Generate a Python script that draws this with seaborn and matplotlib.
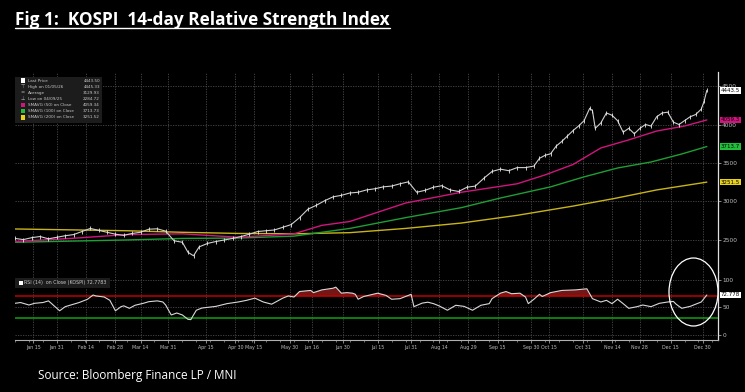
import matplotlib
matplotlib.use("Agg")
import matplotlib.pyplot as plt
import seaborn as sns
import pandas as pd
from matplotlib.patches import Ellipse, Rectangle
from matplotlib.lines import Line2D
from matplotlib.ticker import MultipleLocator

# ---------------- data ----------------
tick_labels = ["Jan 15", "Jan 31", "Feb 14", "Feb 28", "Mar 14", "Mar 31", "Apr 15", "Apr 30",
               "May 15", "May 30", "Jun 16", "Jun 30", "Jul 15", "Jul 31", "Aug 14", "Aug 29",
               "Sep 15", "Sep 30", "Oct 15", "Oct 31", "Nov 14", "Nov 28", "Dec 15", "Dec 30"]
tick_pos = [6.5, 15, 25.5, 36, 45, 55, 68.5, 79, 85.5, 98.5, 106.5, 117.5, 130, 142, 152, 162.5,
            173, 185, 191.5, 203.5, 214, 224, 235, 246.5]

price_idx = [0, 3, 6, 9, 12, 15, 18, 21, 24, 27, 30, 33, 36, 39, 42, 45, 48, 51, 54, 57, 60, 62, 64,
             66, 69, 72, 75, 78, 81, 84, 87, 90, 93, 96, 99, 102, 105, 108, 111, 114, 117, 120, 123,
             126, 129, 132, 135, 138, 141, 144, 147, 150, 153, 156, 159, 162, 165, 168, 171, 174,
             177, 180, 183, 186, 188, 190, 192, 194, 196, 198, 200, 202, 204, 206, 207, 208, 210,
             212, 214, 216, 218, 220, 222, 224, 226, 228, 230, 232, 234, 236, 238, 240, 242, 244,
             246, 247, 248]
price_close = [2520, 2505, 2530, 2545, 2515, 2535, 2555, 2570, 2610, 2650, 2625, 2600, 2575, 2560,
               2585, 2600, 2640, 2645, 2615, 2490, 2470, 2340, 2295, 2410, 2455, 2480, 2500, 2520,
               2545, 2575, 2610, 2620, 2630, 2665, 2700, 2790, 2900, 2950, 3010, 3060, 3080, 3110,
               3120, 3150, 3165, 3190, 3200, 3230, 3255, 3120, 3145, 3185, 3205, 3150, 3130, 3185,
               3200, 3300, 3390, 3420, 3400, 3440, 3440, 3460, 3560, 3600, 3620, 3720, 3780, 3850,
               3920, 3980, 4050, 4210, 4180, 3950, 4020, 4150, 4120, 4050, 3900, 3950, 3880, 3950,
               4000, 3980, 4100, 4150, 4160, 4030, 4000, 4050, 4100, 4130, 4200, 4300, 4443.5]

sma50_idx = [0, 20, 40, 60, 80, 100, 110, 120, 140, 160, 180, 190, 200, 210, 220, 230, 240, 248]
sma50 = [2480, 2520, 2570, 2580, 2535, 2580, 2690, 2740, 2980, 3120, 3230, 3345, 3480, 3695,
         3800, 3915, 3980, 4059.34]
sma100_idx = [0, 40, 60, 80, 100, 120, 140, 160, 174, 192, 204, 216, 228, 239, 248]
sma100 = [2470, 2500, 2520, 2525, 2550, 2650, 2790, 2920, 3045, 3190, 3320, 3435, 3513, 3617,
          3713.73]
sma200_idx = [0, 40, 60, 80, 100, 120, 140, 160, 180, 200, 215, 230, 248]
sma200 = [2643, 2620, 2600, 2585, 2580, 2595, 2650, 2720, 2820, 2940, 3040, 3150, 3251.52]

rsi_idx = [0, 2, 5, 7, 10, 12, 13, 16, 18, 20, 23, 26, 28, 29, 32, 34, 36, 38, 39, 41, 43, 46, 48,
           51, 53, 54, 56, 58, 60, 62, 63, 65, 67, 72, 76, 80, 83, 86, 89, 92, 96, 98, 100, 102,
           106, 107, 110, 114, 115, 117, 119, 121, 122, 123, 125, 130, 133, 135, 138, 141, 142,
           143, 146, 148, 150, 152, 155, 158, 161, 164, 167, 170, 171, 174, 176, 178, 181, 183,
           184, 186, 188, 189, 192, 196, 201, 205, 207, 210, 212, 214, 216, 218, 220, 223, 225,
           228, 231, 234, 236, 237, 239, 242, 244, 246, 248]
rsi_val = [57.6, 59, 54.5, 57.6, 59, 62, 57.6, 44, 51.5, 54.5, 59, 65, 72.7, 71, 69, 63, 44, 51.5,
           53, 48.5, 54, 57.6, 60.6, 62, 60, 54.5, 36.4, 40, 36.4, 28.5, 27.9, 45, 49, 52, 57, 60,
           63, 67, 60, 56, 67, 71, 69, 79, 81, 77, 82, 85, 87, 76, 77, 76, 74, 65, 70, 76, 72, 65,
           66, 72, 74, 51.5, 58, 59.6, 57, 53, 45, 54, 52, 45, 54, 57, 66, 76, 79, 75, 76, 69, 57,
           65, 74, 70, 77, 81, 82, 84, 66, 60, 63, 57, 65, 57, 48.5, 51.5, 54.5, 51.5, 57.6, 60,
           61, 56, 48.5, 52, 56, 60, 72.7783]

legend_rows = [("Last Price", "4443.50"), ("High on 01/05/26", "4445.33"),
               ("Average", "3129.93"), ("Low on 04/09/25", "2284.72"),
               ("SMAVG (50) on Close", "4059.34"), ("SMAVG (100) on Close", "3713.73"),
               ("SMAVG (200) on Close", "3251.52")]
price_ticks = [2500, 3000, 3500, 4000, 4500]
rsi_ticks = [0, 50, 100]

# ---------------- style ----------------
W, H = 745, 392
sns.set_theme(style="dark")
plt.rcParams.update({
    "figure.facecolor": "black", "axes.facecolor": "black", "savefig.facecolor": "black",
    "axes.edgecolor": "#808080", "text.color": "white",
})
plt.rcParams["font.family"] = ["DejaVu Sans"]

C_MAG, C_GRN, C_YEL = "#d0157f", "#1e9e35", "#c8b418"
GRID = "#4a4a4a"


def fx(x):
    return x / W


def fy(y):
    return 1 - y / H


fig = plt.figure(figsize=(W / 100, H / 100), dpi=100)
ax = fig.add_axes([fx(15), fy(272), fx(703), 200 / H])
ax2 = fig.add_axes([fx(15), fy(340), fx(703), 68 / H], sharex=ax)

# ---------------- price panel ----------------
dfp = pd.DataFrame({"idx": price_idx, "close": price_close})
sns.lineplot(data=pd.DataFrame({"i": sma200_idx, "v": sma200}), x="i", y="v", ax=ax,
             color=C_YEL, linewidth=1.0)
sns.lineplot(data=pd.DataFrame({"i": sma100_idx, "v": sma100}), x="i", y="v", ax=ax,
             color=C_GRN, linewidth=1.0)
sns.lineplot(data=pd.DataFrame({"i": sma50_idx, "v": sma50}), x="i", y="v", ax=ax,
             color=C_MAG, linewidth=1.0)
sns.lineplot(data=dfp, x="idx", y="close", ax=ax, color="#cfcfcf", linewidth=0.8,
             marker="|", markersize=2.5, markeredgewidth=0.6, markeredgecolor="#e8e8e8")

ax.set_xlim(0, 252)
ax.set_ylim(2084, 4682)
ax.set_xlabel("")
ax.set_ylabel("")
ax.yaxis.tick_right()
ax.set_yticks(price_ticks)
ax.set_yticklabels([str(t) for t in price_ticks])
ax.tick_params(axis="y", colors="#bdbdbd", labelsize=4.2, length=2, width=0.5, pad=1,
               right=True, left=False)
ax.tick_params(axis="x", which="both", bottom=False, labelbottom=False)
for t in tick_pos:
    ax.axvline(t, color=GRID, lw=0.6, ls=(0, (1.5, 1.5)), zorder=0)
for t in price_ticks:
    ax.axhline(t, color=GRID, lw=0.6, ls=(0, (1.5, 1.5)), zorder=0)
for s in ["top", "left"]:
    ax.spines[s].set_visible(False)
ax.spines["right"].set_color("#e0e0e0")
ax.spines["right"].set_linewidth(0.9)
ax.spines["bottom"].set_color("#7a7a7a")
ax.spines["bottom"].set_linewidth(0.6)

# value boxes on right axis
for val, txt, col in [(price_close[-1], "4443.5", "white"), (sma50[-1], "4059.3", C_MAG),
                      (sma100[-1], "3713.7", "#22c03a"), (sma200[-1], "3251.5", "#e8d21c")]:
    ax.annotate(txt, xy=(1.0, val), xycoords=("axes fraction", "data"), xytext=(2, 0),
                textcoords="offset points", fontsize=4.0, color="black", va="center",
                ha="left", annotation_clip=False,
                bbox=dict(boxstyle="square,pad=0.15", fc=col, ec="none"))

# legend box
fig.patches.append(Rectangle((fx(15), fy(123)), fx(87), 46 / H, transform=fig.transFigure,
                             facecolor="#1c1c1c", edgecolor="none", zorder=5))
mk_cols = ["white", None, None, None, C_MAG, "#22c03a", "#e8d21c"]
mk_sym = [None, "⊤", "=", "⊥", None, None, None]
for k, (name, val) in enumerate(legend_rows):
    yy = 80.7 + k * 6.1
    if mk_cols[k]:
        fig.patches.append(Rectangle((fx(20.5), fy(yy + 2.2)), fx(4.4), 4.4 / H,
                                     transform=fig.transFigure, facecolor=mk_cols[k],
                                     edgecolor="none", zorder=6))
    else:
        fig.text(fx(22.7), fy(yy), mk_sym[k], fontsize=3.6, color="#bbbbbb", ha="center",
                 va="center", zorder=6)
    fig.text(fx(27.5), fy(yy), name, fontsize=3.0, color="#c8c8c8", va="center", zorder=6)
    fig.text(fx(100), fy(yy), val, fontsize=3.0, color="#c8c8c8", va="center", ha="right",
             zorder=6)

# ---------------- RSI panel ----------------
dfr = pd.DataFrame({"idx": rsi_idx, "rsi": rsi_val})
ax2.fill_between(rsi_idx, rsi_val, 70, where=[v > 70 for v in rsi_val], interpolate=True,
                 color="#7a1818", alpha=0.95, linewidth=0, zorder=2)
ax2.fill_between(rsi_idx, rsi_val, 30, where=[v < 30 for v in rsi_val], interpolate=True,
                 color="#1f6b2a", alpha=0.95, linewidth=0, zorder=2)
ax2.axhline(70, color="#c00000", lw=1.1, zorder=3)
ax2.axhline(30, color="#10a010", lw=1.1, zorder=3)
sns.lineplot(data=dfr, x="idx", y="rsi", ax=ax2, color="#d8d8d8", linewidth=0.8, zorder=4)
ax2.set_ylim(-9.1, 114.5)
ax2.set_xlim(0, 252)
ax2.set_xlabel("")
ax2.set_ylabel("")
ax2.yaxis.tick_right()
ax2.set_yticks(rsi_ticks)
ax2.set_yticklabels([str(t) for t in rsi_ticks])
ax2.tick_params(axis="y", colors="#bdbdbd", labelsize=4.2, length=2, width=0.5, pad=1,
                right=True, left=False)
for t in tick_pos:
    ax2.axvline(t, color=GRID, lw=0.6, ls=(0, (1.5, 1.5)), zorder=0)
for t in rsi_ticks:
    ax2.axhline(t, color=GRID, lw=0.6, ls=(0, (1.5, 1.5)), zorder=0)
ax2.set_xticks(tick_pos)
ax2.set_xticklabels(tick_labels)
ax2.xaxis.set_minor_locator(MultipleLocator(5))
ax2.tick_params(axis="x", colors="#bdbdbd", labelsize=3.4, length=2, width=0.5, pad=1.5,
                bottom=True)
ax2.tick_params(axis="x", which="minor", colors="#9a9a9a", length=1.2, width=0.5, bottom=True)
for s in ["top", "left"]:
    ax2.spines[s].set_visible(False)
ax2.spines["right"].set_color("#e0e0e0")
ax2.spines["right"].set_linewidth(0.9)
ax2.spines["bottom"].set_color("#b0b0b0")
ax2.spines["bottom"].set_linewidth(0.8)
ax2.annotate("72.778", xy=(1.0, rsi_val[-1]), xycoords=("axes fraction", "data"),
             xytext=(2, 0), textcoords="offset points", fontsize=4.0, color="black",
             va="center", ha="left", annotation_clip=False,
             bbox=dict(boxstyle="square,pad=0.15", fc="white", ec="none"))

# RSI legend
fig.patches.append(Rectangle((fx(15), fy(287.5)), fx(95), 9.5 / H, transform=fig.transFigure,
                             facecolor="#1c1c1c", edgecolor="none", zorder=5))
fig.patches.append(Rectangle((fx(18.5), fy(285)), fx(4.5), 4.5 / H, transform=fig.transFigure,
                             facecolor="white", edgecolor="none", zorder=6))
fig.text(fx(24.5), fy(282.7), "RSI (14)  on Close (KOSPI) 72.7783", fontsize=3.4,
         color="#c8c8c8", va="center", zorder=6)

# highlight ellipse
fig.patches.append(Ellipse((fx(693.5), fy(292)), fx(49), 68 / H, transform=fig.transFigure,
                           facecolor="none", edgecolor="white", linewidth=0.9, zorder=10))

# ---------------- title / source ----------------
title = fig.text(fx(15), fy(20), "Fig 1:  KOSPI  14-day Relative Strength Index",
                 fontsize=12.4, fontweight="bold", color="white", va="center", ha="left",
                 family=["Open Sans", "DejaVu Sans"])
fig.text(fx(38), fy(376), "Source: Bloomberg Finance LP / MNI", fontsize=8.5, color="white",
         va="center", ha="left", family=["Open Sans", "DejaVu Sans"])

fig.canvas.draw()
bb = title.get_window_extent(fig.canvas.get_renderer())
fig.lines.append(Line2D([bb.x0 / W, bb.x1 / W], [(bb.y0 + 1.5) / H, (bb.y0 + 1.5) / H],
                        transform=fig.transFigure, color="white", linewidth=1.0))

fig.savefig("out.png", dpi=100, facecolor="black")
